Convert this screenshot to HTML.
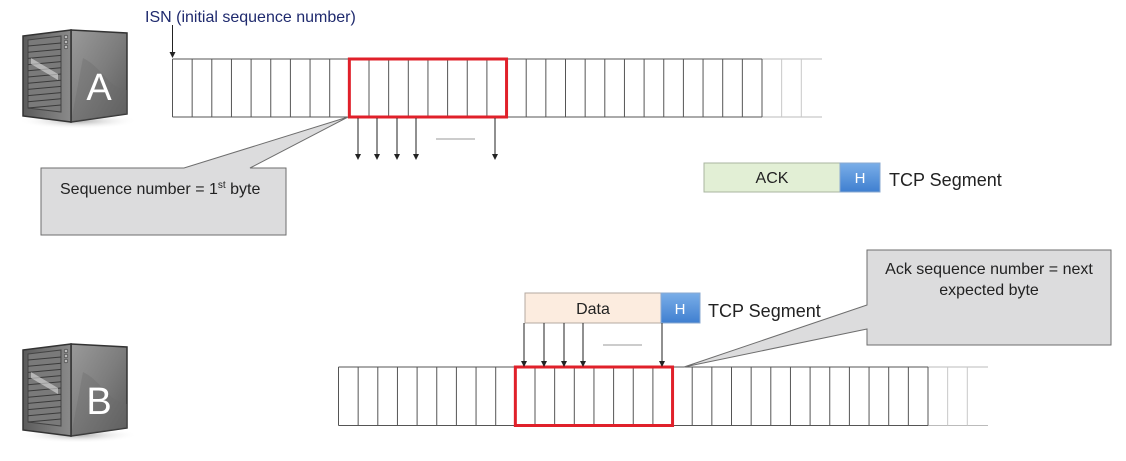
<!DOCTYPE html>
<html><head><meta charset="utf-8"><style>
html,body{margin:0;padding:0;background:#fff;width:1126px;height:461px;overflow:hidden}
svg{display:block}
text{font-family:"Liberation Sans",sans-serif}
</style></head><body>
<svg id="s" width="1126" height="461" viewBox="0 0 1126 461">
<defs>
<linearGradient id="side" x1="0" y1="0" x2="1" y2="1"><stop offset="0" stop-color="#9a9a9a"/><stop offset="0.5" stop-color="#7d7d7d"/><stop offset="1" stop-color="#5a5a5a"/></linearGradient>
<linearGradient id="front" x1="0" y1="0" x2="1" y2="0"><stop offset="0" stop-color="#5c5c5c"/><stop offset="1" stop-color="#8a8a8a"/></linearGradient>
<linearGradient id="hblue" x1="0" y1="0" x2="0" y2="1"><stop offset="0" stop-color="#7aaee8"/><stop offset="1" stop-color="#3f7fd0"/></linearGradient>
<radialGradient id="shadow"><stop offset="0" stop-color="#aaa"/><stop offset="1" stop-color="#fff" stop-opacity="0"/></radialGradient>
<marker id="ah" viewBox="0 0 6 6" refX="3" refY="6" markerWidth="6" markerHeight="6" orient="auto-start-reverse"><path d="M0,0 L6,0 L3,6z" fill="#222" transform="rotate(-90 3 3)"/></marker>
</defs>
<g id="serverA"></g>
<g id="serverB"></g>

<text x="145" y="22" font-size="16" fill="#1f2a6e">ISN (initial sequence number)</text>
<line x1="172.5" y1="25" x2="172.5" y2="57" stroke="#222" stroke-width="1"/>
<path d="M169.5,52 L175.5,52 L172.5,58z" fill="#222"/>

<g id="arrA"></g>
<g id="arrB"></g>

<!-- callout A -->
<path d="M348,117 L250,168 L286,168 L286,235 L41,235 L41,168 L184,168 Z" fill="#dcdcdd" stroke="#6e6e6e" stroke-width="1"/>
<text x="60" y="194" font-size="16" fill="#222">Sequence number = 1<tspan font-size="10" dy="-6">st</tspan><tspan dy="6"> byte</tspan></text>

<!-- callout B -->
<path d="M684,367 L867,305 L867,250 L1111,250 L1111,345 L867,345 L867,329 Z" fill="#dcdcdd" stroke="#6e6e6e" stroke-width="1"/>
<text x="989" y="274" font-size="16" fill="#222" text-anchor="middle">Ack sequence number = next</text>
<text x="989" y="295" font-size="16" fill="#222" text-anchor="middle">expected byte</text>

<!-- ACK segment -->
<rect x="704" y="163" width="136" height="29" fill="#e2efd5" stroke="#a9b6a0"/>
<text x="772" y="183" font-size="16" text-anchor="middle" fill="#222">ACK</text>
<rect x="840" y="163" width="40" height="29" fill="url(#hblue)" stroke="#8aa9d0"/>
<text x="860" y="183" font-size="15" text-anchor="middle" fill="#fff">H</text>
<text x="889" y="186" font-size="18" fill="#222">TCP Segment</text>

<!-- Data segment -->
<rect x="525" y="293" width="136" height="30" fill="#fcecdf" stroke="#b5aaa0"/>
<text x="593" y="314" font-size="16" text-anchor="middle" fill="#222">Data</text>
<rect x="661" y="293" width="39" height="30" fill="url(#hblue)" stroke="#8aa9d0"/>
<text x="680" y="314" font-size="15" text-anchor="middle" fill="#fff">H</text>
<text x="708" y="317" font-size="18" fill="#222">TCP Segment</text>

<g id="arrowsA"></g>
<g id="arrowsB"></g>
<line x1="436" y1="139" x2="475" y2="139" stroke="#999"/>
<line x1="603" y1="345" x2="642" y2="345" stroke="#999"/>
</svg>
<script>
const NS="http://www.w3.org/2000/svg";
function mk(p,tag,attrs){const e=document.createElementNS(NS,tag);for(const k in attrs)e.setAttribute(k,attrs[k]);p.appendChild(e);return e;}
const cellW=19.65;
function stream(gid,x0,y0,y1){
  const g=document.getElementById(gid);
  const xe=x0+30*cellW;
  let l;
  l=mk(g,'line',{x1:x0,y1:y0,x2:xe+60,y2:y0,stroke:'#bbb'});
  l=mk(g,'line',{x1:x0,y1:y1,x2:xe+60,y2:y1,stroke:'#bbb'});
  l=mk(g,'line',{x1:x0,y1:y0,x2:xe,y2:y0,stroke:'#555'});
  l=mk(g,'line',{x1:x0,y1:y1,x2:xe,y2:y1,stroke:'#555'});
  for(let i=0;i<=32;i++){
    const x=x0+i*cellW;
    const c=mk(g,'line',{x1:x,y1:y0,x2:x,y2:y1,stroke:i<=30?'#555':'#c8c8c8'});
    
    
  }
  const r=mk(g,'rect',{x:x0+9*cellW,y:y0,width:8*cellW,height:y1-y0,fill:'none',stroke:'#e0202a','stroke-width':3});
  
  
}
stream('arrA',172.5,59,117);
stream('arrB',338.5,367,425.5);
function arrows(gid,xs,ya,yb){
  const g=document.getElementById(gid);
  xs.forEach(x=>{
    const l=mk(g,'line',{x1:x,y1:ya,x2:x,y2:yb-5,stroke:'#222'});
    
    
    mk(g,'path',{d:`M${x-3},${yb-6} L${x+3},${yb-6} L${x},${yb}z`,fill:'#222'});
  });
}
arrows('arrowsA',[358,377,397,416,495],118,160);
arrows('arrowsB',[524,544,564,583,662],323,367);
function server(gid,ox,oy,letter){
  const g=document.getElementById(gid);
  g.setAttribute('transform',`translate(${ox},${oy})`);
  mk(g,'ellipse',{cx:55,cy:93,rx:60,ry:8,fill:'url(#shadow)'});
  mk(g,'path',{d:'M48,2 L104,5 L104,86 L48,94 Z',fill:'url(#side)',stroke:'#333','stroke-width':1.5});
  mk(g,'path',{d:'M60,30 C80,40 85,60 104,62 L104,86 L48,94 Z',fill:'#6a6a6a',opacity:0.35});
  mk(g,'path',{d:'M0,8 L48,2 L48,94 L0,88 Z',fill:'url(#front)',stroke:'#333','stroke-width':1.5});
  mk(g,'path',{d:'M5,12 L38,8 L38,84 L5,80 Z',fill:'#7a7a7a',stroke:'#444'});
  for(let i=0;i<11;i++){mk(g,'line',{x1:5,y1:18+i*6.2,x2:38,y2:15+i*6.2,stroke:'#3a3a3a'});}
  mk(g,'path',{d:'M8,30 L35,46 L35,52 L8,36Z',fill:'#ddd',opacity:0.6});
  for(let i=0;i<3;i++){mk(g,'circle',{cx:43,cy:9+i*5,r:1.8,fill:'#bbb',stroke:'#333','stroke-width':0.6});}
  const t=mk(g,'text',{x:76,y:72,'font-size':38,fill:'#fff','text-anchor':'middle'});
  t.textContent=letter;
  
  
}
server('serverA',23,28,'A');
server('serverB',23,342,'B');
</script>
</body></html>
